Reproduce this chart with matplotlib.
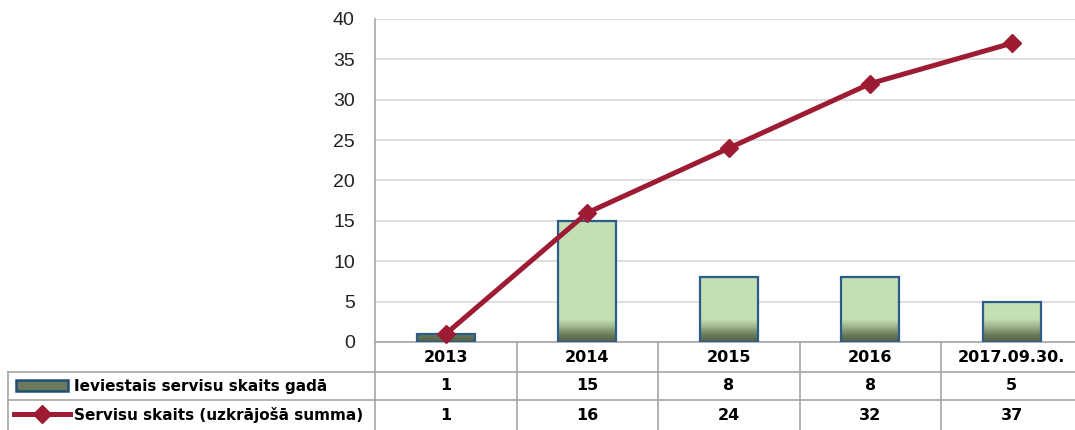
import matplotlib
matplotlib.use("Agg")
import matplotlib.pyplot as plt
import matplotlib.patches as patches
import matplotlib.transforms as mtransforms
from matplotlib.colors import LinearSegmentedColormap
from matplotlib.lines import Line2D
import numpy as np

categories = ["2013", "2014", "2015", "2016", "2017.09.30."]
per_year = [1, 15, 8, 8, 5]
cumulative = [1, 16, 24, 32, 37]
series_names = ["Ieviestais servisu skaits gadā", "Servisu skaits (uzkrājošā summa)"]
yticks = [0, 5, 10, 15, 20, 25, 30, 35, 40]

W, H = 1075, 430
LINE_COLOR = "#9E1B34"
BAR_EDGE = "#2B5C8A"
GRID = "#D9D9D9"
TABLE_LINE = "#A6A6A6"
TXT_FONT = ["DejaVu Sans"]
TICK_FONT = ["Liberation Sans"]

fig = plt.figure(figsize=(W / 100, H / 100), dpi=100)
fig.patch.set_facecolor("white")

ax_left, ax_right, ax_top, ax_bot = 375, 1082.5, 19, 342
ax = fig.add_axes([ax_left / W, 1 - ax_bot / H, (ax_right - ax_left) / W, (ax_bot - ax_top) / H])
ax.set_xlim(-0.5, len(categories) - 0.5)
ax.set_ylim(0, 40)
ax.set_yticks(yticks)
ax.set_xticks([])
ax.yaxis.grid(True, color=GRID, lw=1.2)
ax.set_axisbelow(True)
for side in ["top", "right", "bottom"]:
    ax.spines[side].set_visible(False)
ax.spines["left"].set_color(TABLE_LINE)
ax.spines["left"].set_linewidth(1.2)
ax.tick_params(axis="y", length=0, pad=14.5, labelsize=14, labelcolor="#222222")
for lbl in ax.get_yticklabels():
    lbl.set_family(TICK_FONT)

# bars with a darker band at the bottom
x = np.arange(len(categories))
bar_w = 0.41
bars = ax.bar(x, per_year, width=bar_w, facecolor="none", edgecolor=BAR_EDGE, lw=1.6, zorder=3)
cmap = LinearSegmentedColormap.from_list(
    "g", [(0.0, "#56644A"), (0.02, "#6A7A5A"), (0.045, "#9DB58E"),
          (0.068, "#C4DFB3"), (1.0, "#C6E0B5")])
grad = np.linspace(0, 1, 800).reshape(-1, 1)
for b in bars:
    im = ax.imshow(grad, cmap=cmap, aspect="auto", origin="lower",
                   extent=[b.get_x(), b.get_x() + b.get_width(), 0, 40], zorder=2)
    im.set_clip_path(b)

ax.plot(x, cumulative, color=LINE_COLOR, lw=3.6, marker="D", ms=9,
        mec=LINE_COLOR, mfc=LINE_COLOR, zorder=4, clip_on=False)

# data table under the plot
trans = mtransforms.blended_transform_factory(ax.transData, ax.transAxes)
ah = ax_bot - ax_top


def yf(py):
    return (ax_bot - py) / ah


row_centers = [357, 386, 415]
for i, cat in enumerate(categories):
    ax.text(i, yf(row_centers[0]), cat, transform=trans, ha="center", va="center",
            fontsize=11.5, fontweight="bold", family=TXT_FONT, clip_on=False)
    ax.text(i, yf(row_centers[1]), str(per_year[i]), transform=trans, ha="center", va="center",
            fontsize=11.5, fontweight="bold", family=TXT_FONT, clip_on=False)
    ax.text(i, yf(row_centers[2]), str(cumulative[i]), transform=trans, ha="center", va="center",
            fontsize=11.5, fontweight="bold", family=TXT_FONT, clip_on=False)

for xv in np.arange(0.5, len(categories) - 0.5, 1):
    ax.add_line(Line2D([xv, xv], [0, yf(H + 2)], transform=trans, color=TABLE_LINE,
                       lw=1.2, clip_on=False))
ax.add_line(Line2D([-0.5, len(categories) - 0.5], [0, 0], transform=trans, color=TABLE_LINE,
                   lw=1.2, clip_on=False))
ax.add_line(Line2D([-0.5, -0.5], [0, yf(H + 2)], transform=trans, color=TABLE_LINE,
                   lw=1.2, clip_on=False))

# legend part of the table, in pixel coords
lay = fig.add_axes([0, 0, 1, 1], zorder=-1)
lay.set_xlim(0, W)
lay.set_ylim(H, 0)
lay.axis("off")
lay.patch.set_alpha(0)
for py in [372, 400]:
    lay.plot([8, ax_right], [py, py], color=TABLE_LINE, lw=1.2)
lay.plot([8, 8], [372, H + 2], color=TABLE_LINE, lw=1.2)

lay.add_patch(patches.Rectangle((16, 380), 52, 11, facecolor="#6B7A5A",
                                edgecolor="#1F4E79", lw=1.8))
lay.plot([14, 70], [414, 414], color=LINE_COLOR, lw=3.6)
lay.plot([42], [414], marker="D", ms=9, color=LINE_COLOR)
lay.text(74, 386, series_names[0], ha="left", va="center", fontsize=11,
         fontweight="bold", family=TXT_FONT)
lay.text(74, 415, series_names[1], ha="left", va="center", fontsize=11,
         fontweight="bold", family=TXT_FONT)

fig.savefig("out.png", dpi=100, facecolor="white")
